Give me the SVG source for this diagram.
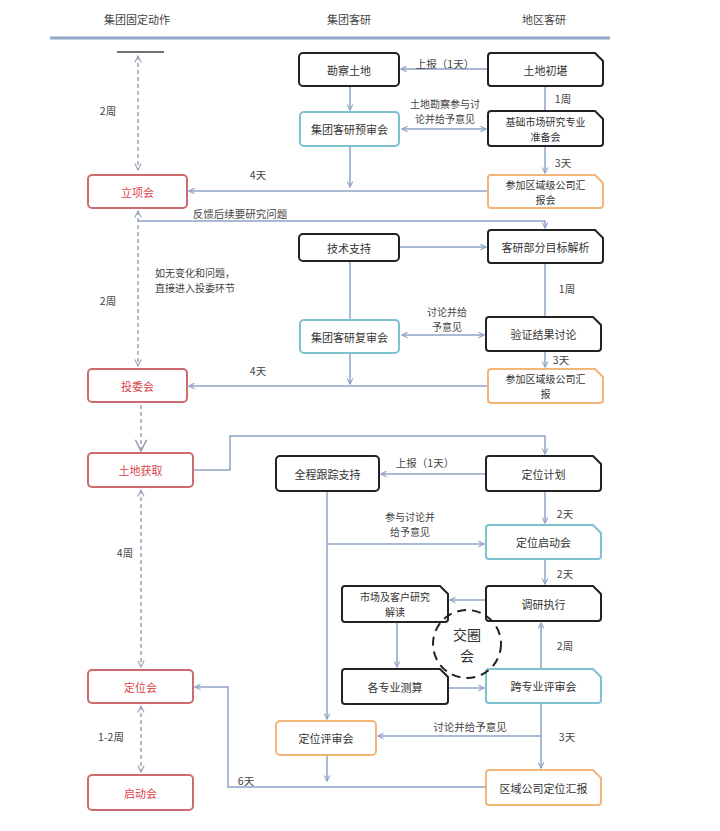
<svg xmlns="http://www.w3.org/2000/svg" width="720" height="831" viewBox="0 0 720 831">
<defs>
<marker id="ar" viewBox="0 0 10 10" refX="9" refY="5" markerWidth="7" markerHeight="7" orient="auto-start-reverse" markerUnits="userSpaceOnUse">
<path d="M1,1 L9,5 L1,9" fill="none" stroke="#8fa3c6" stroke-width="1.6"/>
</marker>
<marker id="ad" viewBox="0 0 10 10" refX="9" refY="5" markerWidth="8" markerHeight="8" orient="auto-start-reverse" markerUnits="userSpaceOnUse">
<path d="M1,1 L9,5 L1,9" fill="none" stroke="#9aa4b4" stroke-width="1.4"/>
</marker>
<marker id="adl" viewBox="0 0 10 10" refX="9" refY="5" markerWidth="14" markerHeight="14" orient="auto" markerUnits="userSpaceOnUse">
<path d="M1,1 L9,5 L1,9" fill="none" stroke="#8a94a8" stroke-width="1"/>
</marker>
</defs>
<style>
text{font-family:"Noto Sans CJK SC","Noto Sans",sans-serif;font-size:11px;fill:#333;text-anchor:middle;dominant-baseline:central}
.hd{font-size:11px;fill:#444}
.red{fill:#d9434a}
.lbl{font-size:10.5px;fill:#444}
.two{font-size:10px}
.lt{font-size:10px;fill:#444}
.st{text-anchor:start}
.c{fill:none;stroke:#8fa3c6;stroke-width:1.5}
.dash{fill:none;stroke:#9aa4b4;stroke-width:1.5;stroke-dasharray:4 3}
.bk{fill:#fff;stroke:#222;stroke-width:2}
.rd{fill:#fff;stroke:#cf6a70;stroke-width:2}
.tl{fill:#fff;stroke:#7cc2cf;stroke-width:2}
.og{fill:#fff;stroke:#f2b57a;stroke-width:2}
</style>
<rect width="720" height="831" fill="#fff"/>
<g id="header">
<text class="hd" x="137" y="19">集团固定动作</text>
<text class="hd" x="349" y="19">集团客研</text>
<text class="hd" x="544" y="19">地区客研</text>
<line x1="50" y1="38" x2="610" y2="38" stroke="#8fa9c8" stroke-width="3"/>
<line x1="117" y1="52" x2="164" y2="52" stroke="#444" stroke-width="1.5"/>
</g>
<g id="connectors">
<line class="dash" x1="138" y1="56" x2="138" y2="170" marker-start="url(#ad)" marker-end="url(#ad)"/>
<line class="dash" x1="138" y1="211" x2="138" y2="366" marker-start="url(#ad)" marker-end="url(#ad)"/>
<line class="dash" x1="141" y1="405" x2="141" y2="451" marker-end="url(#adl)"/>
<line class="dash" x1="141" y1="490" x2="141" y2="667" marker-start="url(#ad)" marker-end="url(#ad)"/>
<line class="dash" x1="141" y1="706" x2="141" y2="772" marker-start="url(#ad)" marker-end="url(#ad)"/>
<line class="c" x1="488" y1="69" x2="401" y2="69" marker-end="url(#ar)"/>
<line class="c" x1="350" y1="86" x2="350" y2="110" marker-end="url(#ar)"/>
<line class="c" x1="402" y1="129" x2="486" y2="129" marker-start="url(#ar)" marker-end="url(#ar)"/>
<line class="c" x1="545" y1="86" x2="545" y2="111"/>
<line class="c" x1="545" y1="146" x2="545" y2="173" marker-end="url(#ar)"/>
<line class="c" x1="350" y1="146" x2="350" y2="187" marker-end="url(#ar)"/>
<line class="c" x1="488" y1="191" x2="189" y2="191" marker-end="url(#ar)"/>
<polyline class="c" points="138,221 545,221 545,228" marker-end="url(#ar)"/>
<line class="c" x1="399" y1="247" x2="486" y2="247" marker-end="url(#ar)"/>
<line class="c" x1="545" y1="263" x2="545" y2="317"/>
<line class="c" x1="350" y1="261" x2="350" y2="320"/>
<line class="c" x1="402" y1="335" x2="484" y2="335" marker-start="url(#ar)" marker-end="url(#ar)"/>
<line class="c" x1="545" y1="351" x2="545" y2="367" marker-end="url(#ar)"/>
<line class="c" x1="350" y1="353" x2="350" y2="384" marker-end="url(#ar)"/>
<line class="c" x1="488" y1="386" x2="189" y2="386" marker-end="url(#ar)"/>
<polyline class="c" points="194,470 230,470 230,436 545,436 545,454" marker-end="url(#ar)"/>
<line class="c" x1="486" y1="474" x2="381" y2="474" marker-end="url(#ar)"/>
<line class="c" x1="545" y1="491" x2="545" y2="523" marker-end="url(#ar)"/>
<line class="c" x1="327" y1="491" x2="327" y2="719" marker-end="url(#ar)"/>
<line class="c" x1="327" y1="544" x2="484" y2="544" marker-end="url(#ar)"/>
<line class="c" x1="545" y1="559" x2="545" y2="584" marker-end="url(#ar)"/>
<line class="c" x1="486" y1="600" x2="450" y2="600" marker-end="url(#ar)"/>
<line class="c" x1="397" y1="622" x2="397" y2="667" marker-end="url(#ar)"/>
<line class="c" x1="449" y1="688" x2="484" y2="688" marker-end="url(#ar)"/>
<line class="c" x1="541" y1="669" x2="541" y2="623" marker-end="url(#ar)"/>
<line class="c" x1="541" y1="703" x2="541" y2="768" marker-end="url(#ar)"/>
<line class="c" x1="541" y1="736" x2="378" y2="736" marker-end="url(#ar)"/>
<line class="c" x1="327" y1="755" x2="327" y2="781" marker-end="url(#ar)"/>
<polyline class="c" points="486,787 228,787 228,687 195,687" marker-end="url(#ar)"/>
</g>
<g id="labels">
<text class="lbl" x="108" y="110">2周</text>
<text class="lbl" x="108" y="300">2周</text>
<text class="lbl" x="125" y="552">4周</text>
<text class="lbl" x="111" y="736">1-2周</text>
<text class="lt st" x="155" y="272">如无变化和问题，</text>
<text class="lt st" x="155" y="287">直接进入投委环节</text>
<text class="lbl" x="445" y="63">上报（1天）</text>
<text class="lt" x="445" y="103">土地勘察参与讨</text>
<text class="lt" x="445" y="118">论并给予意见</text>
<text class="lbl" x="563" y="98">1周</text>
<text class="lbl" x="563" y="162">3天</text>
<text class="lbl" x="258" y="174">4天</text>
<text class="lbl" x="240" y="213">反馈后续要研究问题</text>
<text class="lbl" x="567" y="288">1周</text>
<text class="lt" x="447" y="311">讨论并给</text>
<text class="lt" x="447" y="326">予意见</text>
<text class="lbl" x="561" y="359">3天</text>
<text class="lbl" x="258" y="370">4天</text>
<text class="lbl" x="425" y="462">上报（1天）</text>
<text class="lbl" x="565" y="513">2天</text>
<text class="lt" x="410" y="516">参与讨论并</text>
<text class="lt" x="410" y="531">给予意见</text>
<text class="lbl" x="565" y="573">2天</text>
<text class="lbl" x="565" y="645">2周</text>
<text class="lbl" x="567" y="736">3天</text>
<text class="lbl" x="470" y="726">讨论并给予意见</text>
<text class="lbl" x="246" y="780">6天</text>
</g>
<g id="n-lixiang"><rect class="rd" x="88" y="175" width="99" height="33" rx="4"/><text class="red" x="137.5" y="191.5">立项会</text></g>
<g id="n-touwei"><rect class="rd" x="88" y="369" width="99" height="33" rx="4"/><text class="red" x="137.5" y="385.5">投委会</text></g>
<g id="n-tudihuoqu"><rect class="rd" x="88" y="453" width="105" height="34" rx="4"/><text class="red" x="140.5" y="470">土地获取</text></g>
<g id="n-dingweihui"><rect class="rd" x="88" y="670" width="105" height="33" rx="4"/><text class="red" x="140.5" y="686.5">定位会</text></g>
<g id="n-qidong"><rect class="rd" x="88" y="775" width="105" height="35" rx="4"/><text class="red" x="140.5" y="792.5">启动会</text></g>
<g id="n-kancha"><rect class="bk" x="299" y="53" width="100" height="33" rx="4"/><text x="349" y="69.5">勘察土地</text></g>
<g id="n-yushen"><rect class="tl" x="300" y="112" width="99" height="34" rx="4"/><text x="349.5" y="129">集团客研预审会</text></g>
<g id="n-jishu"><rect class="bk" x="299" y="234" width="100" height="27" rx="4"/><text x="349" y="247.5">技术支持</text></g>
<g id="n-fushen"><rect class="tl" x="300" y="320" width="99" height="33" rx="4"/><text x="349.5" y="336.5">集团客研复审会</text></g>
<g id="n-quancheng"><rect class="bk" x="276" y="456" width="103" height="35" rx="4"/><text x="327.5" y="473.5">全程跟踪支持</text></g>
<g id="n-pingshen"><rect class="og" x="276" y="721" width="100" height="34" rx="4"/><text x="326" y="738">定位评审会</text></g>
<g id="n-shichang"><path class="bk" d="M345,586 H440 L448,594 V619 Q448,622 445,622 H345 Q342,622 342,619 V589 Q342,586 345,586 Z"/><text class="two" x="395" y="596.5">市场及客户研究</text><text class="two" x="395" y="611.5">解读</text></g>
<g id="n-cesuan"><path class="bk" d="M345,669 H440 L448,677 V701 Q448,704 445,704 H345 Q342,704 342,701 V672 Q342,669 345,669 Z"/><text x="395" y="686.5">各专业测算</text></g>
<g id="n-chukan"><path class="bk" d="M491,53 H595 L603,61 V83 Q603,86 600,86 H491 Q488,86 488,83 V56 Q488,53 491,53 Z"/><text x="545.5" y="69.5">土地初堪</text></g>
<g id="n-jichu"><path class="bk" d="M491,111 H595 L603,119 V143 Q603,146 600,146 H491 Q488,146 488,143 V114 Q488,111 491,111 Z"/><text class="two" x="545.5" y="121">基础市场研究专业</text><text class="two" x="545.5" y="136">准备会</text></g>
<g id="n-canjia1"><path class="og" d="M491,175 H595 L603,183 V205 Q603,208 600,208 H491 Q488,208 488,205 V178 Q488,175 491,175 Z"/><text class="two" x="545.5" y="184">参加区域级公司汇</text><text class="two" x="545.5" y="199">报会</text></g>
<g id="n-mubiao"><path class="bk" d="M491,230 H595 L603,238 V260 Q603,263 600,263 H491 Q488,263 488,260 V233 Q488,230 491,230 Z"/><text x="545.5" y="246.5">客研部分目标解析</text></g>
<g id="n-yanzheng"><path class="bk" d="M489,317 H593 L601,325 V348 Q601,351 598,351 H489 Q486,351 486,348 V320 Q486,317 489,317 Z"/><text x="543.5" y="334">验证结果讨论</text></g>
<g id="n-canjia2"><path class="og" d="M491,369 H595 L603,377 V400 Q603,403 600,403 H491 Q488,403 488,400 V372 Q488,369 491,369 Z"/><text class="two" x="545.5" y="378.5">参加区域级公司汇</text><text class="two" x="545.5" y="393.5">报</text></g>
<g id="n-jihua"><path class="bk" d="M489,456 H593 L601,464 V488 Q601,491 598,491 H489 Q486,491 486,488 V459 Q486,456 489,456 Z"/><text x="543.5" y="473.5">定位计划</text></g>
<g id="n-qidonghui"><path class="tl" d="M489,525 H593 L601,533 V556 Q601,559 598,559 H489 Q486,559 486,556 V528 Q486,525 489,525 Z"/><text x="543.5" y="542">定位启动会</text></g>
<g id="n-diaoyan"><path class="bk" d="M489,586 H593 L601,594 V618 Q601,621 598,621 H489 Q486,621 486,618 V589 Q486,586 489,586 Z"/><text x="543.5" y="603.5">调研执行</text></g>
<g id="n-kuazhuanye"><path class="tl" d="M489,669 H593 L601,677 V700 Q601,703 598,703 H489 Q486,703 486,700 V672 Q486,669 489,669 Z"/><text x="543.5" y="686">跨专业评审会</text></g>
<g id="n-quyu"><path class="og" d="M489,770 H593 L601,778 V802 Q601,805 598,805 H489 Q486,805 486,802 V773 Q486,770 489,770 Z"/><text x="543.5" y="787.5">区域公司定位汇报</text></g>
<g id="n-jiaoquan"><circle cx="467" cy="644" r="34" fill="none" stroke="#222" stroke-width="2" stroke-dasharray="9 6"/><text x="467" y="634" style="font-size:14px">交圈</text><text x="467" y="655" style="font-size:14px">会</text></g>
</svg>
